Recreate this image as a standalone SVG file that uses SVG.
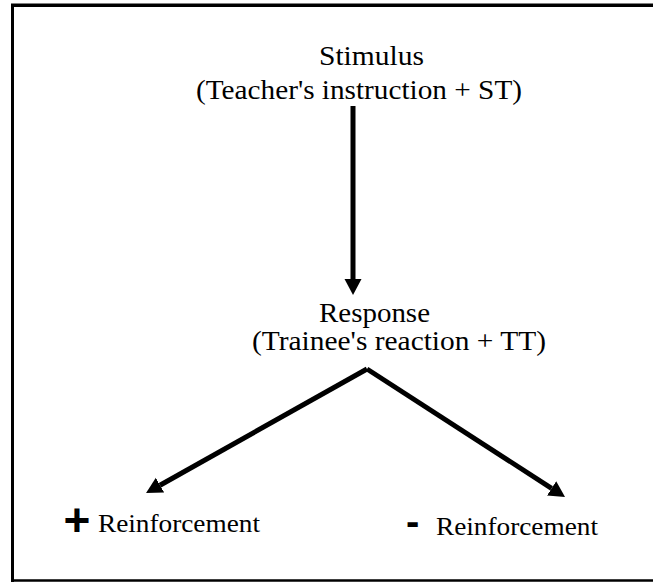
<svg xmlns="http://www.w3.org/2000/svg" width="653" height="582" viewBox="0 0 653 582">
<defs>
<style>
.t{font-family:"Liberation Serif","Times New Roman",serif;fill:#000}
.lg{font-size:28px}
.md{font-size:25px}
.sg{font-family:"Liberation Sans",Arial,sans-serif;font-weight:bold;fill:#000}
.frame{stroke:#000;fill:none}
.conn{stroke:#000;stroke-width:5;fill:none;stroke-linejoin:miter}
</style>
<marker id="ah" markerUnits="userSpaceOnUse" markerWidth="18" markerHeight="18" refX="0" refY="8.5" orient="auto">
<path d="M0,0 L16,8.5 L0,17 z" fill="#000"/>
</marker>
</defs>
<rect width="653" height="582" fill="#fff"/>
<g id="frame">
<line class="frame" x1="11" y1="5.3" x2="653" y2="5.3" stroke-width="3.5"/>
<line class="frame" x1="12.5" y1="4" x2="12.5" y2="582" stroke-width="3"/>
<line class="frame" x1="11" y1="580.5" x2="653" y2="580.5" stroke-width="2.5"/>
</g>
<g id="connectors">
<line class="conn" x1="353" y1="106" x2="353" y2="279" marker-end="url(#ah)"/>
<path class="conn" d="M367,369 L160,485.2" marker-end="url(#ah)"/>
<path class="conn" d="M367,369 L551.6,488.3" marker-end="url(#ah)"/>
</g>
<g id="stimulus">
<text class="t lg" x="319" y="65" textLength="105" lengthAdjust="spacingAndGlyphs">Stimulus</text>
<text class="t lg" x="196" y="99" textLength="326" lengthAdjust="spacingAndGlyphs">(Teacher's instruction + ST)</text>
</g>
<g id="response">
<text class="t lg" x="319" y="322" textLength="111" lengthAdjust="spacingAndGlyphs">Response</text>
<text class="t lg" x="252" y="350" textLength="294" lengthAdjust="spacingAndGlyphs">(Trainee's reaction + TT)</text>
</g>
<g id="pos-reinforcement">
<text class="sg" x="63.5" y="535.5" font-size="46">+</text>
<text class="t md" x="98" y="532" textLength="162" lengthAdjust="spacingAndGlyphs">Reinforcement</text>
</g>
<g id="neg-reinforcement">
<text class="sg" x="406" y="534.5" font-size="40">-</text>
<text class="t md" x="436" y="535" textLength="162" lengthAdjust="spacingAndGlyphs">Reinforcement</text>
</g>
</svg>
